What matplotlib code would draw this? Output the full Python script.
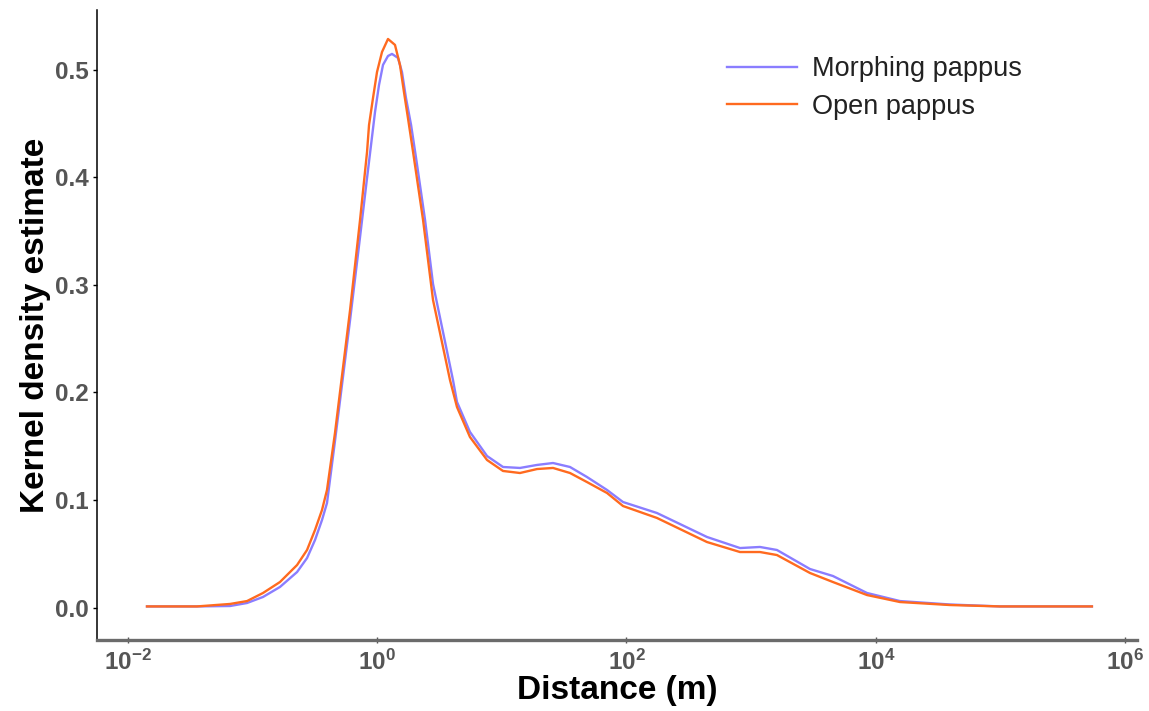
import matplotlib
matplotlib.use('Agg')
import matplotlib.pyplot as plt
import numpy as np
from matplotlib.ticker import NullLocator

plt.rcParams['font.family'] = ['Liberation Sans', 'DejaVu Sans']
plt.rcParams['mathtext.fontset'] = 'custom'
plt.rcParams['mathtext.rm'] = 'Liberation Sans'
plt.rcParams['mathtext.bf'] = 'Liberation Sans:bold'

# values: log10 of distance (m) and kernel density estimate
morph_logx = np.array([-1.844, -1.443, -1.178, -1.042, -0.914, -0.778, -0.641, -0.561,
                       -0.497, -0.441, -0.401, -0.337, -0.216, -0.136, -0.080, -0.048,
                       -0.016, 0.016, 0.048, 0.088, 0.120, 0.168, 0.200, 0.232,
                       0.273, 0.313, 0.385, 0.449, 0.609, 0.641, 0.745, 0.882,
                       1.010, 1.146, 1.283, 1.411, 1.547, 1.683, 1.844, 1.972,
                       2.244, 2.645, 2.910, 3.070, 3.206, 3.471, 3.655, 3.928,
                       4.192, 4.593, 4.994, 5.731])
morph_kde = np.array([0.0010, 0.0010, 0.0014, 0.0042, 0.0098, 0.0191, 0.0330, 0.0460,
                      0.0628, 0.0814, 0.0972, 0.1549, 0.2674, 0.3447, 0.3995, 0.4302,
                      0.4609, 0.4860, 0.5047, 0.5130, 0.5149, 0.5112, 0.4981, 0.4740,
                      0.4488, 0.4181, 0.3605, 0.3009, 0.2116, 0.1912, 0.1633, 0.1409,
                      0.1307, 0.1298, 0.1326, 0.1344, 0.1307, 0.1214, 0.1093, 0.0981,
                      0.0879, 0.0656, 0.0553, 0.0563, 0.0535, 0.0358, 0.0293, 0.0135,
                      0.0060, 0.0028, 0.0010, 0.0010])

open_logx = np.array([-1.844, -1.443, -1.178, -1.042, -0.914, -0.778, -0.641, -0.561,
                      -0.497, -0.441, -0.401, -0.337, -0.216, -0.136, -0.080, -0.064,
                      -0.032, 0.000, 0.040, 0.088, 0.144, 0.184, 0.216, 0.248,
                      0.289, 0.369, 0.449, 0.585, 0.641, 0.745, 0.882, 1.010,
                      1.146, 1.283, 1.411, 1.547, 1.683, 1.844, 1.972, 2.244,
                      2.645, 2.910, 3.070, 3.206, 3.471, 3.655, 3.928, 4.192,
                      4.593, 4.994, 5.731])
open_kde = np.array([0.0010, 0.0010, 0.0033, 0.0060, 0.0135, 0.0237, 0.0395, 0.0535,
                     0.0721, 0.0907, 0.1093, 0.1623, 0.2767, 0.3605, 0.4237, 0.4488,
                     0.4740, 0.4981, 0.5167, 0.5288, 0.5233, 0.5047, 0.4795, 0.4553,
                     0.4237, 0.3605, 0.2860, 0.2116, 0.1865, 0.1586, 0.1372, 0.1270,
                     0.1251, 0.1288, 0.1298, 0.1251, 0.1167, 0.1065, 0.0944, 0.0833,
                     0.0609, 0.0516, 0.0516, 0.0488, 0.0321, 0.0237, 0.0116, 0.0051,
                     0.0023, 0.0010, 0.0010])

labels = ['Morphing pappus', 'Open pappus']
x_exps = [-2, 0, 2, 4, 6]
y_ticks = [0.0, 0.1, 0.2, 0.3, 0.4, 0.5]

fig = plt.figure(figsize=(11.49, 7.11), dpi=100)
ax = fig.add_axes([0.0844, 0.0999, 0.9051, 0.8861])

ax.plot(10 ** morph_logx, morph_kde, color='#8a7dff', lw=1.7, label=labels[0],
        solid_joinstyle='round')
ax.plot(10 ** open_logx, open_kde, color='#ff6a1f', lw=1.7, label=labels[1],
        solid_joinstyle='round')

ax.set_xscale('log')
ax.set_xlim(10 ** -2.245, 10 ** 6.092)
ax.set_ylim(-0.0302, 0.5558)

ax.set_xticks([10.0 ** e for e in x_exps])
ax.set_xticklabels([r'$\mathbf{10^{%d}}$' % e for e in x_exps])
ax.xaxis.set_minor_locator(NullLocator())
ax.set_yticks(y_ticks)
ax.set_yticklabels(['%.1f' % v for v in y_ticks])

for s in ['top', 'right']:
    ax.spines[s].set_visible(False)
ax.spines['left'].set_color('black')
ax.spines['left'].set_linewidth(1.1)
ax.spines['bottom'].set_color('#6b6b6b')
ax.spines['bottom'].set_linewidth(2.4)

ax.tick_params(axis='y', colors='black', labelcolor='#555555', labelsize=17.5,
               length=3, width=1, pad=3)
ax.tick_params(axis='x', colors='#555555', labelcolor='#555555', labelsize=17.5,
               length=4, width=1, direction='inout', pad=5)
for t in ax.get_yticklabels():
    t.set_fontweight('bold')

ax.set_xlabel('Distance (m)', fontsize=24, fontweight='bold', labelpad=0)
ax.set_ylabel('Kernel density estimate', fontsize=24, fontweight='bold', labelpad=3)

ax.legend(loc='upper left', bbox_to_anchor=(0.6327, 0.921), bbox_transform=fig.transFigure,
          frameon=False, fontsize=19.5, handlelength=2.6, handletextpad=0.55,
          labelspacing=0.42, borderpad=0, borderaxespad=0, labelcolor='#222222')

fig.savefig('out.png', dpi=100)
